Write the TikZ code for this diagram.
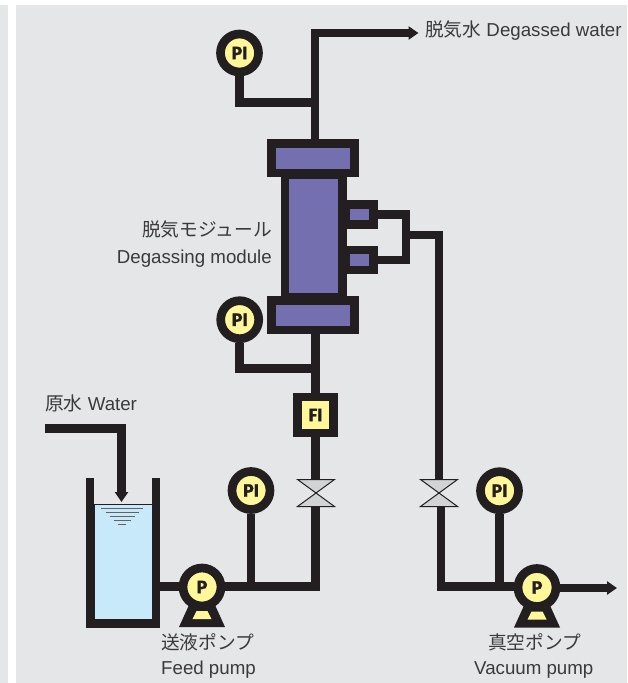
\documentclass[tikz,border=0pt]{standalone}
\usepackage{fontspec}
\setmainfont{Liberation Sans}
\newfontfamily\cjk{Noto Sans CJK JP}
\newfontfamily\tagfont{Fira Sans}[BoldFeatures={FakeBold=1.2}]
\usetikzlibrary{arrows.meta,calc}
\definecolor{ink}{HTML}{231F20}
\definecolor{panel}{HTML}{E5E6E8}
\definecolor{lbl}{HTML}{3A3A3C}
\definecolor{gauge}{HTML}{FFF799}
\definecolor{shell}{HTML}{7470B0}
\definecolor{water}{HTML}{C7E9F9}
\definecolor{gate}{HTML}{D1D3D4}
\tikzset{
  pipe/.style={draw=ink,line width=8.7pt,line cap=butt,line join=miter},
  flow/.style={pipe,-{Triangle[length=10pt,width=13pt]}},
  gaugenode/.style={circle,draw=ink,fill=gauge,line width=8.7pt,minimum size=38pt,inner sep=0pt,font=\tagfont\fontsize{18}{18}\selectfont\bfseries,text=ink},
  vessel/.style={rectangle,draw=ink,fill=shell,line width=8.5pt,inner sep=0pt},
  gatenode/.style={rectangle,inner sep=0pt,outer sep=0pt,minimum width=37pt,minimum height=27pt},
  gatebody/.style={draw=ink,fill=gate,line width=1pt,line join=miter},
  caption/.style={text=lbl,inner sep=0pt,font=\fontsize{18.7}{18.7}\selectfont}
}
\begin{document}
\begin{tikzpicture}[x=1pt,y=-1pt]
\useasboundingbox (0,0) rectangle (627,683);
% backdrop
\fill[panel] (0,5) rectangle (8,683);
\fill[panel] (16,5) rectangle (627,683);
% module
\node[vessel,minimum width=57.5pt,minimum height=123pt] (body) at (313.75,236) {};
\node[vessel,minimum width=83pt,minimum height=29.5pt] (topflange) at (313,158.25) {};
\node[vessel,minimum width=83pt,minimum height=29.5pt] (botflange) at (313,315) {};
\node[vessel,minimum width=27.5pt,minimum height=20pt] (upport) at (359.75,214.5) {};
\node[vessel,minimum width=27.5pt,minimum height=20pt] (lowport) at (359.75,260) {};
% instruments
\node[gaugenode] (pitop) at (239.5,53) {PI};
\node[gaugenode] (pimid) at (239.7,319.7) {PI};
\node[gaugenode] (pifeed) at (251,490.5) {PI};
\node[gaugenode] (pivac) at (499.5,490.7) {PI};
\node[gaugenode,rectangle,minimum width=36pt,minimum height=36pt] (fi) at (315.5,415) {FI};
% valves
\node[gatenode] (valvefeed) at (316,493) {};
\node[gatenode] (valvevac) at (439,493) {};
\foreach \v in {valvefeed,valvevac}
  \draw[gatebody] (\v.north west) -- (\v.north east) -- (\v.south west) -- (\v.south east) -- cycle;
% tank
\node[rectangle,fill=water,draw=ink,line width=.6pt,inner sep=0pt,minimum width=58pt,minimum height=115pt] (tank) at (123,561.5) {};
\draw[pipe] (90,478) |- (156,623.75) -- (156,478);
\foreach \ya/\hw in {508.7/21,512.7/16.5,516.5/12.5,520.5/8.5,524/4}
  \draw[ink!70,line width=1pt] (122-\hw,\ya) -- (122+\hw,\ya);
% pumps
\node[gaugenode] (feedpump) at (202,587) {P};
\node[gaugenode] (vacpump) at (537,587.5) {P};
\foreach \p in {feedpump,vacpump} {
  \fill[ink] ($(\p)+(-23,40)$) -- ($(\p)+(-13,18)$) -- ($(\p)+(13,18)$) -- ($(\p)+(23,40)$) -- cycle;
  \fill[gauge] ($(\p)+(-9.5,32)$) -- ($(\p)+(-5.5,24)$) -- ($(\p)+(5.5,24)$) -- ($(\p)+(9.5,32)$) -- cycle;
}
% named bends
\coordinate (outbend) at (315,33);
\coordinate (outend) at (418.5,33);
\coordinate (intake) at (45,428.5);
\coordinate (inbend) at (121.5,428.5);
\coordinate (indrop) at (121.5,502);
\coordinate (feedbend) at (315.5,586.5);
\coordinate (midtee) at (315.5,368.5);
\coordinate (manifold) at (406,235);
\coordinate (vacdrop) at (439,235);
\coordinate (vacbend) at (441,586.5);
\coordinate (vacend) at (617,588);
% water side
\draw[flow] (topflange.north -| outbend) -- (outbend) -- (outend);
\draw[pipe] (pitop.south) |- (315,102.5);
\draw[pipe] (botflange.south -| feedbend) -- (fi.north -| feedbend);
\draw[pipe] (pimid.south) |- (midtee);
\draw[pipe] (fi.south -| feedbend) -- (valvefeed.north -| feedbend);
\draw[pipe] (valvefeed.south -| feedbend) -- (feedbend) -- (feedpump.east |- feedbend);
\draw[pipe] (pifeed.south) -- (pifeed |- feedbend);
\draw[pipe] (feedpump.west |- feedbend) -- (tank.east |- feedbend);
\draw[flow] (intake) -- (inbend) -- (indrop);
% vacuum side
\draw[pipe] (upport.east) -| (manifold) |- (lowport.east);
\draw[pipe] (manifold) -- (vacdrop) -- (valvevac.north);
\draw[pipe] (valvevac.south -| vacbend) -- (vacbend) -- (vacpump.west |- vacbend);
\draw[pipe] (pivac.south) -- (pivac |- vacbend);
\draw[flow] (vacpump.east |- vacend) -- (vacend);
% labels
\node[caption,anchor=base west] (outlabel) at (425,36.5) {{\cjk 脱気水} Degassed water};
\node[caption,anchor=base east] (modja) at (272,236) {\cjk 脱気モジュール};
\node[caption,anchor=base east] (moden) at (272,263.5) {Degassing module};
\node[caption,anchor=base west] (inlabel) at (45,410) {{\cjk 原水} Water};
\node[caption,anchor=base west] (feedja) at (161,649) {\cjk 送液ポンプ};
\node[caption,anchor=base west] (feeden) at (161,674) {Feed pump};
\node[caption,anchor=base west] (vacja) at (488,649) {\cjk 真空ポンプ};
\node[caption,anchor=base west] (vacen) at (474,674) {Vacuum pump};
\end{tikzpicture}
\end{document}
